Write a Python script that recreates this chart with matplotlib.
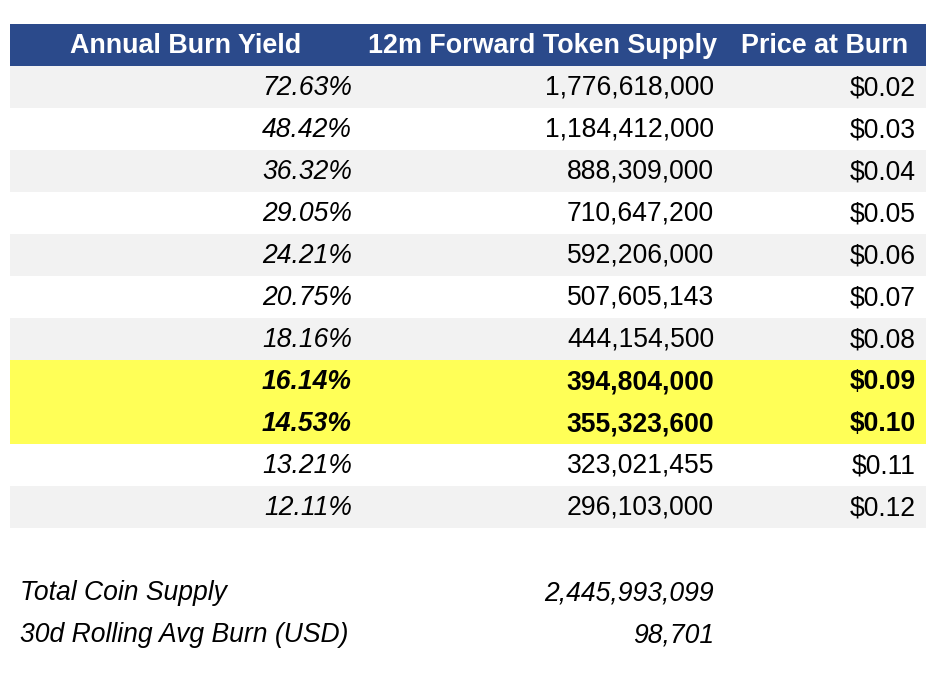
import matplotlib
matplotlib.use("Agg")
import matplotlib.pyplot as plt
from matplotlib.patches import Rectangle

# ---- data ----
headers = ["Annual Burn Yield", "12m Forward Token Supply", "Price at Burn"]
burn_yield = [72.63, 48.42, 36.32, 29.05, 24.21, 20.75, 18.16, 16.14, 14.53, 13.21, 12.11]
token_supply = [1776618000, 1184412000, 888309000, 710647200, 592206000, 507605143,
                444154500, 394804000, 355323600, 323021455, 296103000]
price = [0.02, 0.03, 0.04, 0.05, 0.06, 0.07, 0.08, 0.09, 0.10, 0.11, 0.12]
highlight_rows = [7, 8]
footer_labels = ["Total Coin Supply", "30d Rolling Avg Burn (USD)"]
footer_values = [2445993099, 98701]

# ---- styling ----
W, H = 930, 686
fig = plt.figure(figsize=(W / 100, H / 100), dpi=100)
ax = fig.add_axes([0, 0, 1, 1])
ax.set_xlim(0, W)
ax.set_ylim(H, 0)
ax.axis("off")

FONT = ["Liberation Sans", "DejaVu Sans"]
NAVY = "#2B4A8B"
STRIPE = "#F2F2F2"
YELLOW = "#FFFF57"

left, right = 10, 926
col_edges = [10, 362, 724, 926]
col_text_right = [352, 714, 916]
header_top, header_bot = 24, 66
row_h = 42
fs = 19.1
fs_head = 19.4

# header
ax.add_patch(Rectangle((left, header_top), right - left, header_bot - header_top,
                       facecolor=NAVY, edgecolor="none"))
for i, h in enumerate(headers):
    cx = (col_edges[i] + col_edges[i + 1]) / 2
    ax.text(cx, (header_top + header_bot) / 2 + 1, h, ha="center", va="center",
            color="white", fontsize=fs_head, fontweight="bold", family=FONT)

# rows
for r in range(len(burn_yield)):
    y0 = header_bot + r * row_h
    if r in highlight_rows:
        fc = YELLOW
    elif r % 2 == 0:
        fc = STRIPE
    else:
        fc = "white"
    ax.add_patch(Rectangle((left, y0), right - left, row_h, facecolor=fc, edgecolor="none"))
    weight = "bold" if r in highlight_rows else "normal"
    yc = y0 + row_h / 2 + 1
    cells = [f"{burn_yield[r]:.2f}%", f"{token_supply[r]:,}", f"${price[r]:.2f}"]
    styles = ["italic", "normal", "normal"]
    for c, txt in enumerate(cells):
        ax.text(col_text_right[c], yc, txt, ha="right", va="center", fontsize=fs,
                fontweight=weight, fontstyle=styles[c], family=FONT, color="black")

# footer
footer_y = [593, 635]
for lab, val, fy in zip(footer_labels, footer_values, footer_y):
    ax.text(20, fy, lab, ha="left", va="center", fontsize=fs, fontstyle="italic",
            family=FONT, color="black")
    ax.text(col_text_right[1], fy, f"{val:,}", ha="right", va="center", fontsize=fs,
            fontstyle="italic", family=FONT, color="black")

fig.savefig("out.png", dpi=100, facecolor="white")
